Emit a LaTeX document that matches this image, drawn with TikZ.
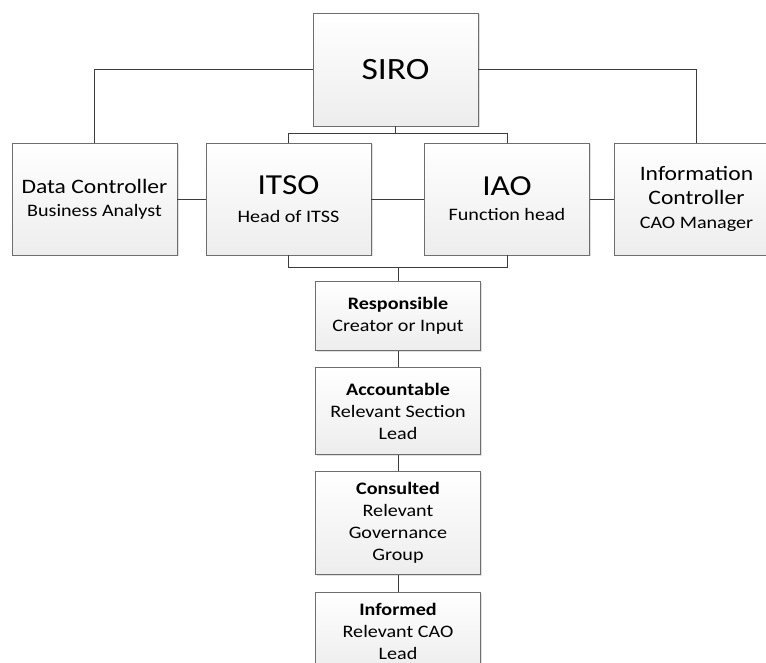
\documentclass[tikz,border=0pt]{standalone}
\usepackage{fontspec}
\setmainfont{Carlito}[FakeStretch=1.15]
\usepackage{tikz}
\usetikzlibrary{calc,shadows}
\usepackage{xcolor}
\definecolor{boxline}{HTML}{6E6E6E}
\definecolor{wireline}{HTML}{3C3C3C}
\newcommand{\hugefont}{\fontsize{31}{34}\selectfont}
\newcommand{\bigfont}{\fontsize{29}{32}\selectfont}
\newcommand{\midfont}{\fontsize{20.5}{24}\selectfont}
\newcommand{\smallfont}{\fontsize{17.5}{22}\selectfont}
\tikzset{
  rolebox/.style={draw=boxline, line width=0.9pt, top color=white, bottom color=black!7,
    minimum width=165pt, align=center, inner sep=2pt, font=\smallfont,
    drop shadow={opacity=0.25, shadow xshift=1.5pt, shadow yshift=-1.5pt}},
  wire/.style={draw=wireline, line width=0.9pt}
}

\begin{document}
\begin{tikzpicture}[x=1pt,y=-1pt]

    \useasboundingbox (0,0) rectangle (766,663);

    % top row
    \node[rolebox, minimum height=113pt, font=\hugefont] (siro) at (395.5,69.5) {SIRO};

    % middle row
    \node[rolebox, minimum height=112pt] (dc) at (94.5,199)
        {{\midfont Data Controller}\\[1pt]Business Analyst};
    \node[rolebox, minimum height=112pt] (itso) at (288.5,199)
        {{\bigfont ITSO}\\[6pt]Head of ITSS};
    \node[rolebox, minimum height=112pt] (iao) at (507,199)
        {{\bigfont IAO}\\[3pt]Function head};
    \node[rolebox, minimum height=112pt] (ic) at (696.5,199)
        {{\midfont Information}\\[2pt]{\midfont Controller}\\[2pt]CAO Manager};

    % RACI column
    \node[rolebox, minimum height=68.6pt] (resp) at (398,316)
        {\textbf{Responsible}\\Creator or Input};
    \node[rolebox, minimum height=86.3pt] (acc) at (398,411)
        {\textbf{Accountable}\\Relevant Section\\Lead};
    \node[rolebox, minimum height=103.3pt] (cons) at (398,522.7)
        {\textbf{Consulted}\\Relevant\\Governance\\Group};
    \node[rolebox, minimum height=78pt] (inf) at (398,631)
        {\textbf{Informed}\\Relevant CAO\\Lead};

    % connectors
    \coordinate (topbus) at ($(siro.south)+(0,7)$);
    \coordinate (botbus) at ($(itso.south)+(0,12)$);

    \draw[wire] (siro.west) -| (dc.north);
    \draw[wire] (siro.east) -| (ic.north);
    \draw[wire] (siro.south) -- (topbus);
    \draw[wire] (itso.north) |- (topbus) -| (iao.north);
    \draw[wire] (dc.east) -- (itso.west);
    \draw[wire] (itso.east) -- (iao.west);
    \draw[wire] (iao.east) -- (ic.west);
    \draw[wire] (itso.south) |- (botbus) -| (iao.south);
    \draw[wire] (resp.north) -- (resp.north |- botbus);
    \draw[wire] (resp.south) -- (acc.north);
    \draw[wire] (acc.south) -- (cons.north);
    \draw[wire] (cons.south) -- (inf.north);

\end{tikzpicture}
\end{document}
